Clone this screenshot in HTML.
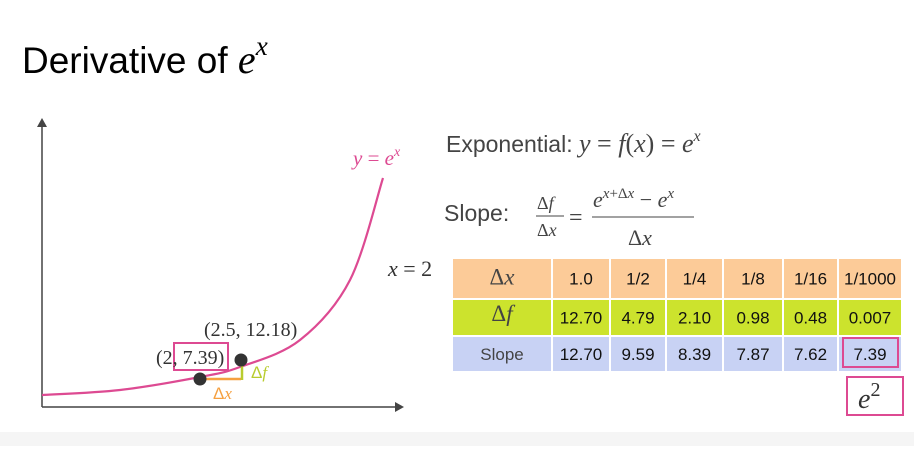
<!DOCTYPE html>
<html><head><meta charset="utf-8"><style>
body{margin:0;width:914px;height:446px;overflow:hidden;background:#fff;font-family:"Liberation Sans",sans-serif}
.m{font-family:"Liberation Serif",serif;font-style:italic}
</style></head><body>
<svg width="914" height="446" viewBox="0 0 914 446">
<rect x="0" y="432" width="914" height="14" fill="#f5f5f5"/>
<text x="22" y="73" font-size="37" fill="#000">Derivative of <tspan class="m" font-size="40">e</tspan><tspan class="m" font-size="27" dy="-18">x</tspan></text>
<g>
<line x1="42" y1="407" x2="398" y2="407" stroke="#444" stroke-width="1.5"/>
<polygon points="404,407 395,402 395,412" fill="#444"/>
<line x1="42" y1="407" x2="42" y2="125" stroke="#444" stroke-width="1.5"/>
<polygon points="42,118 37,127 47,127" fill="#444"/>
</g>
<path id="curve" fill="none" stroke="#dd4a92" stroke-width="2.2"/>
<text x="353" y="165" font-size="21" fill="#dd4a92" class="m">y <tspan font-style="normal">=</tspan> e<tspan font-size="14" dy="-9">x</tspan></text>
<line x1="200" y1="379" x2="241" y2="379" stroke="#f5a040" stroke-width="2.5"/>
<line x1="242" y1="360" x2="242" y2="380" stroke="#b8cc2e" stroke-width="2.5"/>
<circle cx="200" cy="379" r="6.5" fill="#333"/>
<circle cx="241" cy="360" r="6.5" fill="#333"/>
<rect x="174" y="343" width="54" height="27" fill="none" stroke="#dd4a92" stroke-width="2"/>
<text x="156" y="364" font-size="20" font-family="Liberation Serif" fill="#333">(2, 7.39)</text>
<text x="204" y="336" font-size="20" font-family="Liberation Serif" fill="#333">(2.5, 12.18)</text>
<text x="213" y="399" font-size="17" fill="#f5a040">Δ<tspan class="m">x</tspan></text>
<text x="251" y="378" font-size="17" fill="#b8cc2e">Δ<tspan class="m">f</tspan></text>

<text x="446" y="152" font-size="23" fill="#444">Exponential: <tspan class="m" font-size="26">y</tspan><tspan font-family="Liberation Serif" font-size="26"> = </tspan><tspan class="m" font-size="26">f</tspan><tspan font-family="Liberation Serif" font-size="26">(</tspan><tspan class="m" font-size="26">x</tspan><tspan font-family="Liberation Serif" font-size="26">) = </tspan><tspan class="m" font-size="26">e</tspan><tspan class="m" font-size="16" dy="-11">x</tspan></text>
<g fill="#444" font-family="Liberation Serif">
<text x="444" y="221" font-size="23" font-family="Liberation Sans">Slope:</text>
<text x="537" y="209" font-size="18">Δ<tspan font-style="italic">f</tspan></text>
<line x1="536" y1="216" x2="564" y2="216" stroke="#444" stroke-width="1"/>
<text x="537" y="236" font-size="18">Δ<tspan font-style="italic">x</tspan></text>
<text x="569" y="225" font-size="24">=</text>
<text x="593" y="207" font-size="22"><tspan font-style="italic">e</tspan><tspan font-size="15" dy="-9"><tspan font-style="italic">x</tspan>+Δ<tspan font-style="italic">x</tspan></tspan><tspan dy="9"> − </tspan><tspan font-style="italic">e</tspan><tspan font-size="15" dy="-9" font-style="italic">x</tspan></text>
<line x1="592" y1="217" x2="694" y2="217" stroke="#444" stroke-width="1"/>
<text x="628" y="245" font-size="22">Δ<tspan font-style="italic">x</tspan></text>
</g>
<text x="388" y="276" font-size="22" font-family="Liberation Serif" fill="#333"><tspan font-style="italic">x</tspan> = 2</text>
<g id="table"></g>
<rect x="843" y="338" width="55" height="29" fill="none" stroke="#dd4a92" stroke-width="2"/>
<rect x="847" y="377" width="56" height="38" fill="#fff" stroke="#dd4a92" stroke-width="2"/>
<text x="858" y="408" font-size="28" class="m" fill="#333">e<tspan font-style="normal" font-size="20" dy="-12">2</tspan></text>
</svg>
<script>
const curvePx=[42,120,200,240,300,350,383];
const curvePy=[395,390,377,367,340,280,178];
const dxLabels=["1.0","1/2","1/4","1/8","1/16","1/1000"];
const dfValues=["12.70","4.79","2.10","0.98","0.48","0.007"];
const slopeValues=["12.70","9.59","8.39","7.87","7.62","7.39"];
let d="M"+curvePx[0]+","+curvePy[0];
for(let i=0;i<curvePx.length-1;i++){
  const p0=i?i-1:i,p3=Math.min(i+2,curvePx.length-1);
  const c1x=curvePx[i]+(curvePx[i+1]-curvePx[p0])/6,c1y=curvePy[i]+(curvePy[i+1]-curvePy[p0])/6;
  const c2x=curvePx[i+1]-(curvePx[p3]-curvePx[i])/6,c2y=curvePy[i+1]-(curvePy[p3]-curvePy[i])/6;
  d+=` C${c1x},${c1y} ${c2x},${c2y} ${curvePx[i+1]},${curvePy[i+1]}`;
}
document.getElementById('curve').setAttribute('d',d);
const NS="http://www.w3.org/2000/svg";
const tb=document.getElementById('table');
const colX=[452,552,610,666,723,783,838,902];
const rowY=[258,299,336,372];
const fills=["#fccb98","#cce32d","#c8d2f4"];
const rows=[dxLabels,dfValues,slopeValues];
for(let r=0;r<3;r++){
  for(let c=0;c<7;c++){
    const rc=document.createElementNS(NS,'rect');
    rc.setAttribute('x',colX[c]);rc.setAttribute('y',rowY[r]);
    rc.setAttribute('width',colX[c+1]-colX[c]);rc.setAttribute('height',rowY[r+1]-rowY[r]);
    rc.setAttribute('fill',fills[r]);rc.setAttribute('stroke','#fff');rc.setAttribute('stroke-width','2');
    
    
    tb.appendChild(rc);
    const t=document.createElementNS(NS,'text');
    t.setAttribute('x',(colX[c]+colX[c+1])/2);
    t.setAttribute('y',(rowY[r]+rowY[r+1])/2+6);
    t.setAttribute('text-anchor','middle');
    t.setAttribute('fill','#111');
    if(c===0){
      if(r<2){
        t.setAttribute('font-family','Liberation Serif');t.setAttribute('font-size','23');t.setAttribute('fill','#444');
        t.textContent='Δ';
        const v=document.createElementNS(NS,'tspan');
        v.setAttribute('font-style','italic');
        v.textContent=r===0?'x':'f';
        t.appendChild(v);
        if(r===1)t.setAttribute('y',rowY[r]+22);
      } else {t.textContent='Slope';t.setAttribute('font-size','17');t.setAttribute('fill','#444');}
    }else{t.textContent=rows[r][c-1];t.setAttribute('font-size','17');}
    
    
    tb.appendChild(t);
  }
}
</script>
</body></html>
